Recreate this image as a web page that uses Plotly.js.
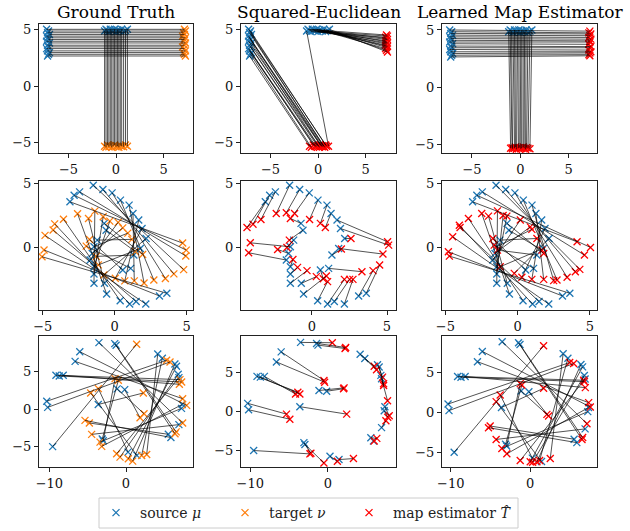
<!DOCTYPE html>
<html><head><meta charset="utf-8">
<script src="https://cdn.plot.ly/plotly-3.0.1.min.js"></script>
<style>body{margin:0;background:#fff}#chart{width:630px;height:531px}</style>
</head><body><div id="chart"></div>
<script>
// ---------- Row 1 : T shape ----------
const tLeftX = [-7.3,-7.1,-7.2,-7.0,-7.3,-7.2,-7.1,-7.3,-7.0,-7.2,-7.1,-7.3,-7.2,-7.0,-7.1,-7.2];
const tLeftY = [5.0,4.85,4.7,4.55,4.4,4.25,4.1,3.95,3.8,3.6,3.45,3.3,3.1,2.95,2.8,2.65];
const tTopX  = [-1.2,-1.05,-0.9,-0.75,-0.6,-0.45,-0.3,-0.15,0.0,0.15,0.3,0.45,0.6,0.8,1.0,1.2];
const tTopY  = [4.85,5.0,4.9,4.8,5.0,4.9,4.85,5.0,4.8,4.95,4.9,4.85,5.0,4.8,4.9,5.0];
// ground-truth targets
const gtRightX = [7.2,7.3,7.1,7.2,7.0,7.3,7.2,7.1,7.3,7.2,7.0,7.2,7.3,7.1,7.2,7.3];
const gtRightY = [5.0,4.85,4.7,4.55,4.4,4.25,4.1,3.95,3.8,3.6,3.45,3.3,3.1,2.95,2.8,2.65];
const gtBotX   = [-1.2,-1.05,-0.9,-0.75,-0.6,-0.45,-0.3,-0.15,0.0,0.15,0.3,0.45,0.6,0.8,1.0,1.2];
const gtBotY   = [-5.3,-5.4,-5.2,-5.35,-5.25,-5.4,-5.3,-5.2,-5.35,-5.3,-5.4,-5.25,-5.3,-5.35,-5.2,-5.3];
// squared-Euclidean map
const seLeftMapX = [0.9,0.8,0.7,0.6,0.5,0.45,0.35,0.25,0.15,0.05,-0.1,-0.2,-0.35,-0.5,-0.7,-0.9];
const seLeftMapY = [-5.3,-5.2,-5.4,-5.3,-5.25,-5.35,-5.3,-5.2,-5.4,-5.3,-5.25,-5.35,-5.3,-5.2,-5.4,-5.3];
const seTopMapX  = [1.1,7.2,7.3,7.1,7.2,7.3,7.1,7.2,7.3,7.2,7.1,7.3,7.2,7.1,7.2,7.3];
const seTopMapY  = [-5.3,4.5,4.4,4.3,4.2,4.1,4.0,3.9,3.8,3.7,3.6,3.5,3.4,3.3,3.15,3.0];
// learned map
const lmLeftMapX = [7.2,7.1,7.3,7.2,7.1,7.3,7.2,7.2,7.1,7.3,7.2,7.1,7.3,7.2,7.1,7.2];
const lmLeftMapY = [4.9,4.75,4.65,4.5,4.35,4.2,4.05,3.95,3.75,3.55,3.45,3.25,3.1,3.0,2.85,2.75];
const lmTopMapX  = [-1.0,-0.85,-0.8,-0.6,-0.5,-0.4,-0.2,-0.1,0.05,0.15,0.3,0.4,0.55,0.65,0.8,1.0];
const lmTopMapY  = [-5.3,-5.25,-5.35,-5.3,-5.2,-5.4,-5.3,-5.25,-5.35,-5.3,-5.2,-5.3,-5.4,-5.25,-5.3,-5.35];

// ---------- Row 2 ----------
const r2SrcX = [-3.11,-2.82,-2.44,-1.49,-0.82,-0.18,0.40,1.00,1.27,1.67,2.18,-0.73,-0.60,-1.22,-1.44,-1.71,1.78,1.33,1.11,0.56,-1.44,-1.44,-1.44,-0.71,-0.56,0.38,1.04,1.49,2.16,3.11,3.62,-1.56,1.90];
const r2SrcY = [3.57,4.09,4.35,4.87,4.53,4.27,3.70,3.31,2.66,2.14,0.70,1.88,1.35,0.57,0.05,-0.99,-0.08,-0.60,-1.64,-1.77,-1.51,-2.08,-2.81,-2.81,-3.65,-4.17,-4.43,-4.24,-4.43,-3.80,-3.59,-0.47,1.48];
const r2TgtX = [4.72,4.97,4.94,4.79,4.11,3.52,2.72,2.04,1.36,0.70,-0.75,1.94,1.44,1.19,0.91,0.24,-1.14,-1.28,-1.98,-1.75,-0.34,-0.80,-1.38,-1.82,-2.58,-3.56,-4.17,-4.28,-4.84,-4.91,-5.05,0.56,0.04];
const r2TgtY = [0.34,-0.21,-0.67,-1.74,-2.07,-2.43,-2.55,-2.79,-2.62,-2.62,-2.16,-0.55,-0.33,0.63,1.12,1.96,-1.37,-0.70,0.10,0.62,2.06,2.40,2.84,2.26,2.64,2.21,1.84,1.36,0.94,-0.20,-0.73,1.53,-2.41];
const r2SEX = [-4.33,-3.93,-3.40,-2.38,-1.71,-1.16,-0.16,0.56,0.89,5.04,2.60,-1.44,-1.51,-1.67,-4.11,-4.22,4.73,1.96,3.33,0.75,-1.27,-0.96,-0.33,0.29,0.96,1.04,2.16,2.51,2.73,4.07,4.51,-2.29,5.11];
const r2SEY = [1.56,1.82,2.19,2.66,2.71,2.66,2.19,1.88,1.56,0.44,0.70,2.27,0.57,0.00,0.36,-0.42,-0.52,-0.13,-1.90,-2.45,-0.94,-1.56,-1.82,-2.29,-2.24,-2.68,-2.50,-2.50,-2.50,-1.82,-1.38,-0.16,0.18];
const r2LMX = [4.12,5.05,4.63,4.31,4.00,3.43,2.73,2.50,1.81,0.99,-0.23,1.81,1.69,1.34,0.99,0.19,-1.20,-1.39,-1.62,-1.71,-0.74,-1.00,-1.39,-2.01,-2.48,-3.40,-4.03,-3.98,-4.49,-4.79,-4.72,0.88,0.30];
const r2LMY = [0.44,0.00,-0.60,-1.72,-1.90,-2.34,-2.55,-2.60,-2.50,-2.50,-2.03,-0.47,-0.21,0.70,1.41,2.14,-1.51,-0.21,0.18,0.70,2.45,2.50,2.86,2.45,2.66,2.27,1.74,1.56,0.83,-0.34,-0.68,1.61,-2.34];

// ---------- Row 3 ----------
const r3SrcX = [-3.53,-1.47,-1.29,-6.03,-6.64,-9.14,-8.71,-8.19,-10.34,-10.22,-3.62,-1.16,-0.17,-9.57,-2.97,0.26,1.42,4.14,4.74,6.38,6.59,6.81,6.90,7.33,7.24,6.90,5.52,5.86,-3.10];
const r3SrcY = [8.88,8.75,8.53,7.67,6.38,4.53,4.44,4.53,1.08,0.26,0.65,2.72,2.63,-4.96,-4.18,-5.69,-6.12,7.37,6.81,6.03,5.73,4.66,4.22,0.65,0.13,-2.03,-3.32,-3.75,-3.95];
const r3TgtX = [7.39,6.39,6.55,7.91,7.39,7.04,7.26,6.96,5.30,5.74,2.26,2.35,1.83,1.39,-1.43,-3.61,-4.61,2.70,2.04,0.87,0.30,-0.78,-1.22,-3.17,-3.39,-4.48,-4.78,-5.35,-1.00];
const r3TgtY = [-1.82,-3.24,-3.00,0.53,1.42,3.96,3.64,3.33,6.53,6.31,2.18,-0.58,-1.11,8.67,4.09,2.76,2.18,-6.00,-6.13,-6.89,-6.58,-6.36,-5.91,-4.93,-4.36,-3.33,-1.82,-1.47,3.87];
const r3SEX = [0.56,2.28,2.20,-0.52,-0.43,-3.88,-3.62,-4.18,-5.34,-4.91,2.41,2.07,2.00,-2.33,-0.52,1.21,3.28,5.95,6.25,7.03,7.16,7.16,7.67,7.89,7.70,7.46,6.29,5.95,-2.20];
const r3SEY = [8.84,8.23,8.10,4.01,3.79,2.50,2.28,2.28,-0.30,-0.95,-0.30,3.06,2.95,-5.39,-6.55,-6.34,-5.99,5.82,5.39,4.44,3.58,3.36,1.42,-0.52,-0.70,-1.16,-3.41,-3.75,-5.30];
const r3LMX = [7.14,6.51,6.60,7.56,7.35,6.72,6.81,6.93,4.96,5.46,1.68,2.10,2.31,1.68,-1.26,-3.78,-4.29,2.52,1.18,0.84,0.00,0.30,-1.26,-2.94,-3.57,-4.29,-5.04,-5.25,-1.05];
const r3LMY = [-1.38,-3.35,-3.10,0.71,1.26,4.06,3.89,3.14,6.28,6.15,3.05,-0.21,-0.42,8.37,3.64,2.22,1.38,-5.73,-5.98,-6.15,-6.15,-6.20,-5.98,-5.15,-4.48,-3.35,-1.67,-1.88,3.47];

const titles = ["Ground Truth", "Squared-Euclidean", "Learned Map Estimator"];
const legendNames = ["source <i>μ</i>", "target <i>ν</i>", "map estimator <i>T̂</i>"];

const BLUE = "#1f77b4", ORANGE = "#ff7f0e", RED = "#ff0000";

const panels = [
  {sx: tLeftX.concat(tTopX), sy: tLeftY.concat(tTopY), tx: gtRightX.concat(gtBotX), ty: gtRightY.concat(gtBotY), col: ORANGE},
  {sx: tLeftX.concat(tTopX), sy: tLeftY.concat(tTopY), tx: seLeftMapX.concat(seTopMapX), ty: seLeftMapY.concat(seTopMapY), col: RED},
  {sx: tLeftX.concat(tTopX), sy: tLeftY.concat(tTopY), tx: lmLeftMapX.concat(lmTopMapX), ty: lmLeftMapY.concat(lmTopMapY), col: RED},
  {sx: r2SrcX, sy: r2SrcY, tx: r2TgtX, ty: r2TgtY, col: ORANGE},
  {sx: r2SrcX, sy: r2SrcY, tx: r2SEX, ty: r2SEY, col: RED},
  {sx: r2SrcX, sy: r2SrcY, tx: r2LMX, ty: r2LMY, col: RED},
  {sx: r3SrcX, sy: r3SrcY, tx: r3TgtX, ty: r3TgtY, col: ORANGE},
  {sx: r3SrcX, sy: r3SrcY, tx: r3SEX, ty: r3SEY, col: RED},
  {sx: r3SrcX, sy: r3SrcY, tx: r3LMX, ty: r3LMY, col: RED}
];

const W = 630, H = 531;
const colPx = [[39,193],[241,396],[442,597]];
const rowPx = [[24,153],[181,310],[336,467]];
const xRanges = [[-8.1,8.1],[-8.1,8.2],[-8.1,7.94],
                 [-5.26,5.44],[-4.73,5.6],[-5.23,5.5],
                 [-11.35,8.74],[-11.2,8.76],[-11.1,8.4]];
const yRanges = [[-5.9,5.47],[-5.9,5.47],[-5.72,5.52],
                 [-4.9,5.2],[-4.9,5.2],[-4.9,5.2],
                 [-7.67,9.76],[-7.07,9.7],[-6.8,9.6]];
const xTicks = [[-5,0,5],[-5,0,5],[-5,0,5],[-5,0,5],[-5,0,5],[-5,0,5],[-10,0],[-10,0],[-10,0]];
const yTicks = [[-5,0,5],[-5,0,5],[-5,0,5],[0,5],[0,5],[0,5],[-5,0,5],[-5,0,5],[-5,0,5]];

const FONT = "DejaVu Serif";
const traces = [];
const legBase = {orientation: "v", yanchor: "middle", y: 1 - 513/H, xanchor: "left",
  bgcolor: "rgba(0,0,0,0)", borderwidth: 0, font: {family: FONT, size: 14, color: "#222"}, itemwidth: 38};
const layout = {
  width: W, height: H, margin: {l:0, r:0, t:0, b:0},
  paper_bgcolor: "#fff", plot_bgcolor: "#fff", showlegend: true,
  font: {family: FONT, color: "#000"},
  legend:  Object.assign({}, legBase, {x: 92/W}),
  legend2: Object.assign({}, legBase, {x: 221/W}),
  legend3: Object.assign({}, legBase, {x: 345/W}),
  shapes: [{type: "rect", xref: "paper", yref: "paper", x0: 99/W, x1: 518/W, y0: 1 - 528/H, y1: 1 - 498/H,
            line: {color: "#cccccc", width: 1}, fillcolor: "rgba(0,0,0,0)"}],
  annotations: []
};

panels.forEach((p, k) => {
  const r = Math.floor(k / 3), c = k % 3;
  const id = k === 0 ? "" : String(k + 1);
  const xa = "x" + id, ya = "y" + id;
  const ax = {
    domain: [colPx[c][0] / W, colPx[c][1] / W], anchor: ya,
    range: xRanges[k], tickvals: xTicks[k],
    showgrid: false, zeroline: false, showline: true, mirror: true,
    linecolor: "#222", linewidth: 1, ticks: "outside", ticklen: 4, tickwidth: 1, tickcolor: "#222",
    tickfont: {family: FONT, size: 13, color: "#111"}
  };
  const ay = Object.assign({}, ax, {
    domain: [1 - rowPx[r][1] / H, 1 - rowPx[r][0] / H], anchor: xa,
    range: yRanges[k], tickvals: yTicks[k]
  });
  layout["xaxis" + id] = ax;
  layout["yaxis" + id] = ay;

  traces.push({x: p.sx, y: p.sy, xaxis: xa, yaxis: ya, mode: "markers", type: "scatter",
    name: legendNames[0], showlegend: k === 0, legend: "legend", hoverinfo: "skip",
    marker: {symbol: "x-thin", size: 7, color: BLUE, line: {width: 1.3, color: BLUE}}});
  traces.push({x: p.tx, y: p.ty, xaxis: xa, yaxis: ya, mode: "markers", type: "scatter",
    name: p.col === ORANGE ? legendNames[1] : legendNames[2],
    showlegend: (k === 0 || k === 1), legend: p.col === ORANGE ? "legend2" : "legend3", hoverinfo: "skip",
    marker: {symbol: "x-thin", size: 7, color: p.col, line: {width: 1.3, color: p.col}}});
  const lx = [], ly = [];
  for (let i = 0; i < p.sx.length; i++) {
    lx.push(p.sx[i], p.tx[i], null);
    ly.push(p.sy[i], p.ty[i], null);
  }
  traces.push({x: lx, y: ly, xaxis: xa, yaxis: ya, mode: "lines", type: "scatter",
    showlegend: false, hoverinfo: "skip", line: {color: "rgba(0,0,0,0.85)", width: 0.8}});
});

titles.forEach((t, c) => {
  layout.annotations.push({text: t, xref: "paper", yref: "paper",
    x: (colPx[c][0] + colPx[c][1]) / 2 / W, y: 1 - 12 / H, xanchor: "center", yanchor: "middle",
    showarrow: false, font: {family: FONT, size: 17, color: "#000"}});
});

Plotly.newPlot("chart", traces, layout, {staticPlot: true, displayModeBar: false});
</script>
</body></html>
